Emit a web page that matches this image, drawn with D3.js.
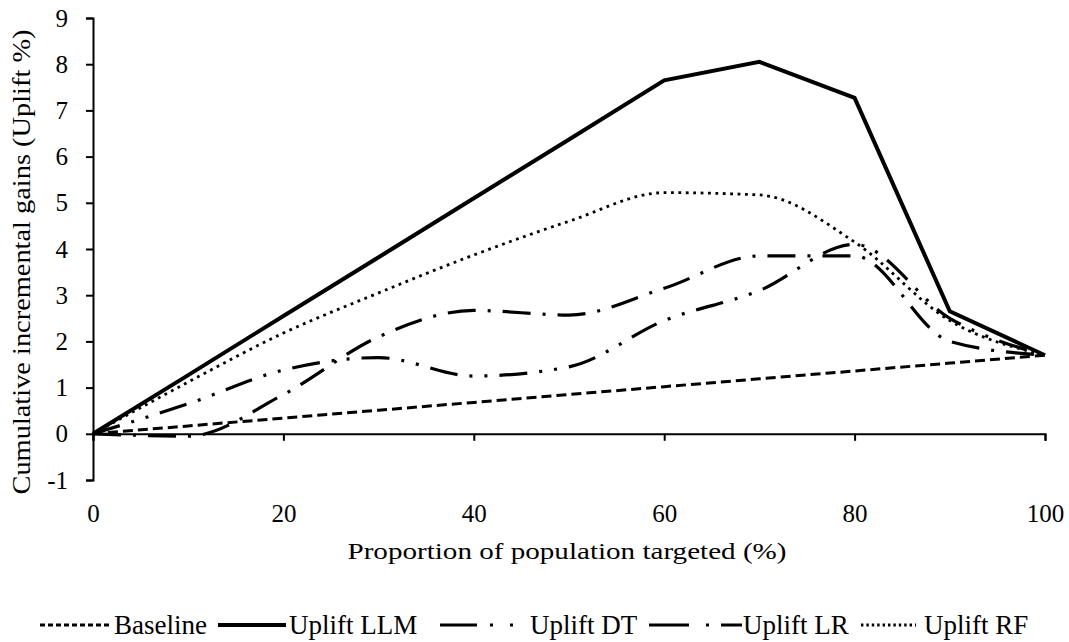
<!DOCTYPE html>
<html><head><meta charset="utf-8">
<script src="https://cdn.jsdelivr.net/npm/d3@7"></script>
<style>body{margin:0;background:#fff}svg{display:block}text{font-family:"Liberation Serif","Times New Roman",serif;fill:#000}</style>
</head><body><svg id="c" width="1069" height="642"></svg>
<script>
const xValues = [0,10,20,30,40,50,60,70,80,90,100];
const baseline = [0,0.17,0.34,0.51,0.68,0.85,1.02,1.19,1.36,1.53,1.70];
const upliftLLM = [0,1.27,2.55,3.82,5.10,6.37,7.65,8.05,7.27,2.65,1.70];
const upliftDT = [0,0.65,1.38,1.65,1.25,1.45,2.45,3.10,4.10,2.50,1.70];
const upliftLR = [0,-0.05,0.85,2.10,2.67,2.57,3.15,3.85,3.85,2.00,1.70];
const upliftRF = [0,1.12,2.18,3.05,3.87,4.60,5.22,5.17,4.15,2.45,1.70];
const xTicks = [0,20,40,60,80,100];
const yTicks = [-1,0,1,2,3,4,5,6,7,8,9];
const seriesNames = ["Baseline","Uplift LLM","Uplift DT","Uplift LR","Uplift RF"];

const svg = d3.select("#c");
const x = d3.scaleLinear().domain([0,100]).range([93,1045]);
const y = d3.scaleLinear().domain([-1,9]).range([480,18]);

const styles = [
  {w:3, dash:"10,5", curve:d3.curveLinear},
  {w:4, dash:null, curve:d3.curveLinear},
  {w:3.2, dash:"28,12,3,12,3,12", curve:d3.curveMonotoneX},
  {w:3.2, dash:"28,12,3,12", curve:d3.curveMonotoneX},
  {w:2.8, dash:"2.8,4.6", curve:d3.curveMonotoneX}
];
const data = [baseline, upliftLLM, upliftDT, upliftLR, upliftRF];

// axes
const fmt = d => String(d);
const yAxis = d3.axisLeft(y).tickValues(yTicks).tickSize(7).tickPadding(18).tickFormat(fmt);
const gy = svg.append("g").attr("transform","translate(93,0)").call(yAxis);
const xAxis = d3.axisBottom(x).tickValues(xTicks).tickSize(7).tickFormat(fmt);
const gx = svg.append("g").attr("transform",`translate(0,${y(0)})`).call(xAxis);
[gy,gx].forEach(g=>{
  g.select(".domain").attr("stroke","#000").attr("stroke-width",2);
  g.selectAll(".tick line").attr("stroke","#000").attr("stroke-width",2);
  g.selectAll("text").attr("font-size",25).attr("font-family","Liberation Serif");
});
gx.selectAll("text").attr("y", 513 - y(0)).attr("dy","0.35em");

// lines
data.forEach((vals,i)=>{
  const line = d3.line().x((d,j)=>x(xValues[j])).y(d=>y(d)).curve(styles[i].curve);
  svg.append("path").datum(vals).attr("d",line).attr("fill","none")
    .attr("stroke","#000").attr("stroke-width",styles[i].w)
    .attr("stroke-dasharray",styles[i].dash);
});

// axis titles
svg.append("text").attr("x",567).attr("y",559).attr("text-anchor","middle").attr("font-size",24)
  .attr("textLength",439).attr("lengthAdjust","spacingAndGlyphs")
  .text("Proportion of population targeted (%)");
svg.append("text").attr("transform","translate(30,262) rotate(-90)").attr("text-anchor","middle").attr("font-size",26)
  .attr("textLength",465).attr("lengthAdjust","spacingAndGlyphs")
  .text("Cumulative incremental gains (Uplift %)");

// legend
const legend = [
  {x1:40,x2:112,tx:114,dash:"5,3"},
  {x1:218,x2:286,tx:289,dash:null},
  {x1:440,x2:516,tx:530,dash:"37,13,3,17,3,20"},
  {x1:649,x2:742,tx:743,dash:"40,17,3,12"},
  {x1:861,x2:916,tx:924,dash:"2.4,3"}
];
legend.forEach((l,i)=>{
  svg.append("line").attr("x1",l.x1).attr("x2",l.x2).attr("y1",625).attr("y2",625)
    .attr("stroke","#000").attr("stroke-width",styles[i].w).attr("stroke-dasharray",l.dash);
  svg.append("text").attr("x",l.tx).attr("y",634).attr("font-size",27).text(seriesNames[i]);
});
</script></body></html>
